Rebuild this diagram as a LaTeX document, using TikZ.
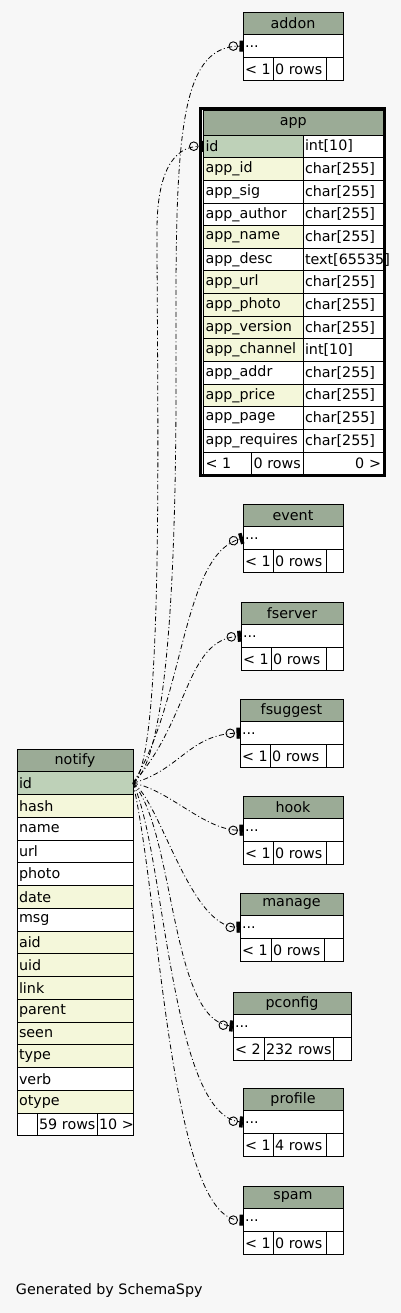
\documentclass[tikz,border=0pt]{standalone}
\usepackage{fontspec}
\setmainfont{DejaVu Sans}
\usetikzlibrary{arrows.meta}
\definecolor{hdgreen}{HTML}{9BAB96}
\definecolor{pkgreen}{HTML}{BED1B8}
\definecolor{idxyellow}{HTML}{F4F7DA}
\definecolor{bggray}{HTML}{F7F7F7}

\tikzset{
  schema/.style={
    every node/.style={draw=black,line width=0.8pt,outer sep=0pt,inner xsep=2pt,inner ysep=0pt,
      font=\fontsize{14.3}{16}\selectfont,anchor=north west,minimum height=22.75pt},
    hdcell/.style={fill=hdgreen,align=center},
    cell/.style={fill=white,align=left},
    pkcell/.style={cell,fill=pkgreen},
    idxcell/.style={cell,fill=idxyellow},
    link/.style={line width=0.8pt,dash pattern=on 5pt off 2.5pt on 1pt off 2.5pt,
      -{Circle[open,length=9.5pt,width=9.5pt,line width=0.9pt,sep=1.5pt]Rectangle[length=3.5pt,width=11pt]}}
  }
}
% small table: name, x, y, width, footer cell 1, footer cell 2, lower bound, rows
\newcommand{\minitable}[8]{
    \node[hdcell,minimum width=#4] (#1) at (#2,#3) {#1};
    \node[cell,text width=#4-4] (#1-row) at (#1.south west) {...};
    \node[cell,text width=#5-4] (#1-ft1) at (#1-row.south west) {\mbox{\textless{} #7}};
    \node[cell,text width=#6-4] (#1-ft2) at (#1-ft1.north east) {\mbox{#8}};
    \node[cell,text width=#4-#5-#6-4] (#1-ft3) at (#1-ft2.north east) {};
}

\begin{document}
\begin{tikzpicture}[x=1pt, y=-1pt, schema]
    \fill[bggray] (0,0) rectangle (401,1313);
    \useasboundingbox (0,0) rectangle (401,1313);

    % related tables
    \minitable{addon}{243}{12}{100}{30}{53}{1}{0 rows}
    \minitable{event}{243}{504}{100}{30}{53}{1}{0 rows}
    \minitable{fserver}{241}{602}{102}{30}{55}{1}{0 rows}
    \minitable{fsuggest}{240}{699}{103}{30}{56}{1}{0 rows}
    \minitable{hook}{243}{796}{100}{30}{53}{1}{0 rows}
    \minitable{manage}{240}{893}{103}{31}{53}{1}{0 rows}
    \minitable{pconfig}{233}{992}{118}{31}{69}{2}{232 rows}
    \minitable{profile}{243}{1088}{100}{30}{53}{1}{4 rows}
    \minitable{spam}{243}{1186}{100}{30}{53}{1}{0 rows}

    % app
    \node[hdcell,minimum width=179.5,minimum height=25] (app) at (203.5,110) {app};
    \node[pkcell,text width=95.5,minimum height=22.65] (app_1) at (app.south west) {id};
    \node[idxcell,text width=95.5,minimum height=22.65] (app_2) at (app_1.south west) {app\_id};
    \node[cell,text width=95.5,minimum height=22.65] (app_3) at (app_2.south west) {app\_sig};
    \node[cell,text width=95.5,minimum height=22.65] (app_4) at (app_3.south west) {app\_author};
    \node[idxcell,text width=95.5,minimum height=22.65] (app_5) at (app_4.south west) {app\_name};
    \node[cell,text width=95.5,minimum height=22.65] (app_6) at (app_5.south west) {app\_desc};
    \node[idxcell,text width=95.5,minimum height=22.65] (app_7) at (app_6.south west) {app\_url};
    \node[idxcell,text width=95.5,minimum height=22.65] (app_8) at (app_7.south west) {app\_photo};
    \node[idxcell,text width=95.5,minimum height=22.65] (app_9) at (app_8.south west) {app\_version};
    \node[idxcell,text width=95.5,minimum height=22.65] (app_10) at (app_9.south west) {app\_channel};
    \node[cell,text width=95.5,minimum height=22.65] (app_11) at (app_10.south west) {app\_addr};
    \node[idxcell,text width=95.5,minimum height=22.65] (app_12) at (app_11.south west) {app\_price};
    \node[cell,text width=95.5,minimum height=22.65] (app_13) at (app_12.south west) {app\_page};
    \node[cell,text width=95.5,minimum height=22.65] (app_14) at (app_13.south west) {app\_requires};
    \node[cell,text width=76,minimum height=22.65] (type_1) at (app_1.north east) {int[10]};
    \node[cell,text width=76,minimum height=22.65] (type_2) at (app_2.north east) {char[255]};
    \node[cell,text width=76,minimum height=22.65] (type_3) at (app_3.north east) {char[255]};
    \node[cell,text width=76,minimum height=22.65] (type_4) at (app_4.north east) {char[255]};
    \node[cell,text width=76,minimum height=22.65] (type_5) at (app_5.north east) {char[255]};
    \node[cell,text width=76,minimum height=22.65] (type_6) at (app_6.north east) {text[65535]};
    \node[cell,text width=76,minimum height=22.65] (type_7) at (app_7.north east) {char[255]};
    \node[cell,text width=76,minimum height=22.65] (type_8) at (app_8.north east) {char[255]};
    \node[cell,text width=76,minimum height=22.65] (type_9) at (app_9.north east) {char[255]};
    \node[cell,text width=76,minimum height=22.65] (type_10) at (app_10.north east) {int[10]};
    \node[cell,text width=76,minimum height=22.65] (type_11) at (app_11.north east) {char[255]};
    \node[cell,text width=76,minimum height=22.65] (type_12) at (app_12.north east) {char[255]};
    \node[cell,text width=76,minimum height=22.65] (type_13) at (app_13.north east) {char[255]};
    \node[cell,text width=76,minimum height=22.65] (type_14) at (app_14.north east) {char[255]};
    \node[cell,text width=44,minimum height=22] (app-ft1) at (app_14.south west) {\textless{} 1};
    \node[cell,text width=47.5,minimum height=22] (app-ft2) at (app-ft1.north east) {0 rows};
    \node[cell,text width=76,minimum height=22,align=right] (app-ft3) at (app-ft2.north east) {0 \textgreater};
    \draw[line width=3pt] (200.7,108.5) rectangle (384.4,475.5);

    % notify
    \node[hdcell,minimum width=116] (notify) at (17,749) {notify};
    \node[pkcell,text width=112] (notify_1) at (notify.south west) {id};
    \node[idxcell,text width=112] (notify_2) at (notify_1.south west) {hash};
    \node[cell,text width=112] (notify_3) at (notify_2.south west) {name};
    \node[cell,text width=112] (notify_4) at (notify_3.south west) {url};
    \node[cell,text width=112] (notify_5) at (notify_4.south west) {photo};
    \node[idxcell,text width=112] (notify_6) at (notify_5.south west) {date};
    \node[cell,text width=112] (notify_7) at (notify_6.south west) {msg};
    \node[idxcell,text width=112] (notify_8) at (notify_7.south west) {aid};
    \node[idxcell,text width=112] (notify_9) at (notify_8.south west) {uid};
    \node[idxcell,text width=112] (notify_10) at (notify_9.south west) {link};
    \node[idxcell,text width=112] (notify_11) at (notify_10.south west) {parent};
    \node[idxcell,text width=112] (notify_12) at (notify_11.south west) {seen};
    \node[idxcell,text width=112] (notify_13) at (notify_12.south west) {type};
    \node[cell,text width=112] (notify_14) at (notify_13.south west) {verb};
    \node[idxcell,text width=112] (notify_15) at (notify_14.south west) {otype};
    \node[cell,text width=16] (notify-ft1) at (notify_15.south west) {};
    \node[cell,text width=56] (notify-ft2) at (notify-ft1.north east) {\mbox{59 rows}};
    \node[cell,text width=32] (notify-ft3) at (notify-ft2.north east) {\mbox{10 \textgreater}};

    \node[draw=none,minimum height=0,anchor=west] (credit) at (14,1291) {Generated by SchemaSpy};

    % relationships
    \draw[link] (notify_1.east) .. controls (180,750) and (176,420) .. (176,300)
        .. controls (176,120) and (185,46) .. (addon-row.west);
    \draw[link] (notify_1.east) .. controls (165,760) and (157,400) .. (157,230)
        .. controls (157,175) and (172,146) .. (app_1.west);
    \draw[link] (notify_1.east) .. controls (185,700) and (182,555) .. (event-row.west);
    \draw[link] (notify_1.east) .. controls (190,720) and (185,640) .. (fserver-row.west);
    \draw[link] (notify_1.east) .. controls (180,770) and (190,734) .. (fsuggest-row.west);
    \draw[link] (notify_1.east) .. controls (170,790) and (205,831) .. (hook-row.west);
    \draw[link] (notify_1.east) .. controls (160,800) and (190,928) .. (manage-row.west);
    \draw[link] (notify_1.east) .. controls (175,830) and (170,1020) .. (pconfig-row.west);
    \draw[link] (notify_1.east) .. controls (165,850) and (170,1115) .. (profile-row.west);
    \draw[link] (notify_1.east) .. controls (160,900) and (170,1220) .. (spam-row.west);
\end{tikzpicture}
\end{document}
